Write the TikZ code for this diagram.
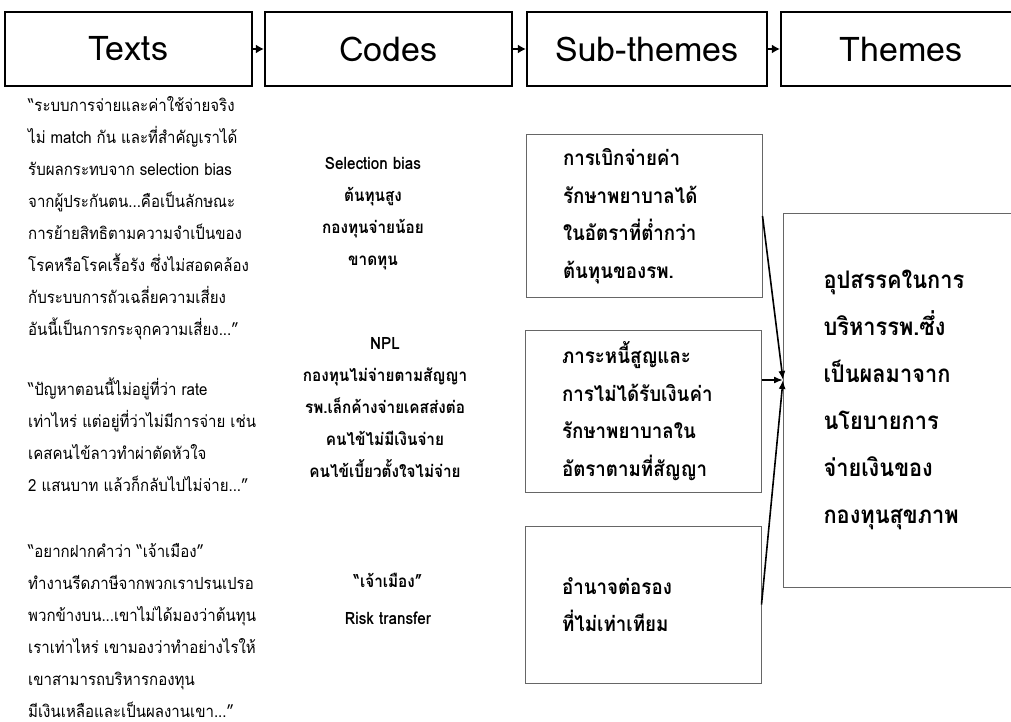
\documentclass[tikz,border=0pt]{standalone}
\usepackage{fontspec}
\setmainfont{Loma}[Script=Thai, FakeStretch=0.9]
\newfontfamily\headfont{Loma}
\usetikzlibrary{arrows.meta, positioning}

\begin{document}
\begin{tikzpicture}[x=1pt, y=-1pt,
      head/.style={rectangle, draw=black, line width=2.2pt, minimum width=247pt, minimum height=74pt, font=\headfont\fontsize{34}{40}\selectfont},
      link/.style={-{Latex[length=8pt, width=9pt]}, line width=2.2pt},
      quote/.style={anchor=west, align=left, inner sep=0pt, font=\fontsize{16.7}{32}\selectfont},
      code/.style={align=center, inner sep=0pt, font=\bfseries\fontsize{17}{32}\selectfont},
      subbox/.style={rectangle, draw=black!60, line width=1pt, text width=162pt, inner xsep=37pt, minimum height=162pt, align=left, font=\bfseries\fontsize{20.8}{37.5}\selectfont},
      themebox/.style={rectangle, draw=black!60, line width=1pt, anchor=west, text width=180pt, inner xsep=40pt, minimum height=374pt, align=left, font=\bfseries\fontsize{24.2}{47}\selectfont},
      feed/.style={-{Latex[length=9pt, width=7pt]}, line width=1.6pt}
    ]
    \useasboundingbox (0,0) rectangle (1011,722);
    \clip (0,0) rectangle (1011,722);
    % header row
    \node[head] (texts) at (128.5,49) {Texts};
    \node[head, right=10.8pt of texts] (codes) {Codes};
    \node[head, minimum width=240pt, right=12.8pt of codes] (subthemes) {Sub-themes};
    \node[head, minimum width=240pt, right=11.8pt of subthemes] (themes) {Themes};
    \draw[link] (texts) -- (codes);
    \draw[link] (codes) -- (subthemes);
    \draw[link] (subthemes) -- (themes);
    % texts
    \node[quote] (q1) at (28,218.5) {“ระบบการจ่ายและค่าใช้จ่ายจริง\\ไม่ match กัน และที่สำคัญเราได้\\รับผลกระทบจาก selection bias\\จากผู้ประกันตน...คือเป็นลักษณะ\\การย้ายสิทธิตามความจำเป็นของ\\โรคหรือโรคเรื้อรัง ซึ่งไม่สอดคล้อง\\กับระบบการถัวเฉลี่ยความเสี่ยง\\อันนี้เป็นการกระจุกความเสี่ยง...”};
    \node[quote] (q2) at (28,435) {“ปัญหาตอนนี้ไม่อยู่ที่ว่า rate\\เท่าไหร่ แต่อยู่ที่ว่าไม่มีการจ่าย เช่น\\เคสคนไข้ลาวทำผ่าตัดหัวใจ\\2 แสนบาท แล้วก็กลับไปไม่จ่าย...”};
    \node[quote] (q3) at (28,631) {“อยากฝากคำว่า “เจ้าเมือง”\\ทำงานรีดภาษีจากพวกเราปรนเปรอ\\พวกข้างบน...เขาไม่ได้มองว่าต้นทุน\\เราเท่าไหร่ เขามองว่าทำอย่างไรให้\\เขาสามารถบริหารกองทุน\\มีเงินเหลือและเป็นผลงานเขา...”};
    % codes
    \node[code] (c1) at (373,214) {Selection bias\\ต้นทุนสูง\\กองทุนจ่ายน้อย\\ขาดทุน};
    \node[code] (c2) at (385,408) {NPL\\กองทุนไม่จ่ายตามสัญญา\\รพ.เล็กค้างจ่ายเคสส่งต่อ\\คนไข้ไม่มีเงินจ่าย\\คนไข้เบี้ยวตั้งใจไม่จ่าย};
    \node[code, font=\bfseries\fontsize{17}{37}\selectfont] (c3) at (388,598.5) {“เจ้าเมือง”\\Risk transfer};
    % sub-themes
    \node[subbox] (sub1) at (644,216) {การเบิกจ่ายค่า\\รักษาพยาบาลได้\\ในอัตราที่ต่ำกว่า\\ต้นทุนของรพ.};
    \node[subbox] (sub2) at (643,411) {ภาระหนี้สูญและ\\การไม่ได้รับเงินค่า\\รักษาพยาบาลใน\\อัตราตามที่สัญญา};
    \node[subbox, minimum height=157pt] (sub3) at (643,604.5) {อำนาจต่อรอง\\ที่ไม่เท่าเทียม};
    % theme
    \node[themebox] (theme) at (783,400) {อุปสรรคในการ\\บริหารรพ.ซึ่ง\\เป็นผลมาจาก\\นโยบายการ\\จ่ายเงินของ\\กองทุนสุขภาพ};
    \coordinate (meet) at ([yshift=20pt]theme.west);
    \draw[feed] (sub1.east) -- (meet);
    \draw[feed] (sub2.east |- meet) -- (meet);
    \draw[feed] (sub3.east) -- (meet);
\end{tikzpicture}
\end{document}
